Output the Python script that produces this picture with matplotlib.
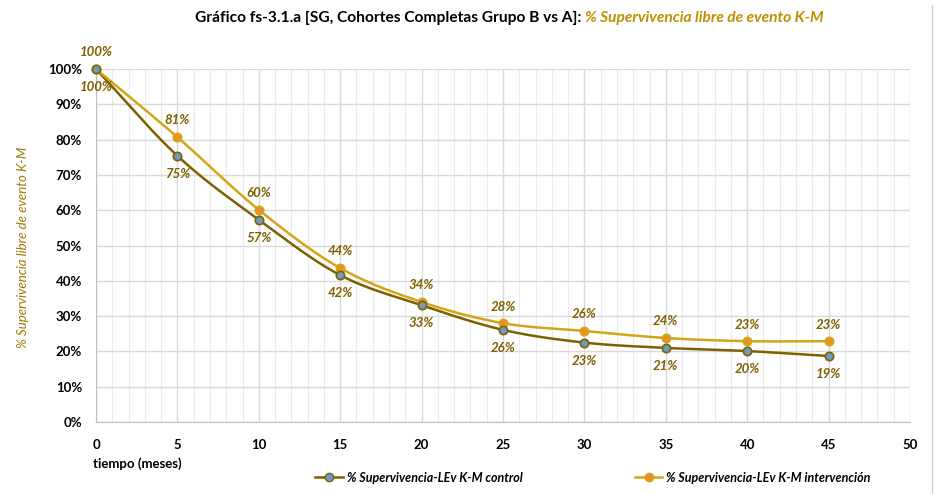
import matplotlib.pyplot as plt
from matplotlib.lines import Line2D
import numpy as np

plt.rcParams['font.family'] = ['Lato', 'DejaVu Sans']

# Datos K-M (meses, % supervivencia libre de evento)
meses = [0, 5, 10, 15, 20, 25, 30, 35, 40, 45]
control = [100, 75.4, 57.3, 41.6, 33.1, 26.1, 22.5, 21.0, 20.1, 18.7]
intervencion = [100, 80.7, 60.1, 43.6, 34.0, 28.0, 25.8, 23.8, 22.9, 22.9]
etq_control = ['100%', '75%', '57%', '42%', '33%', '26%', '23%', '21%', '20%', '19%']
etq_interv = ['100%', '81%', '60%', '44%', '34%', '28%', '26%', '24%', '23%', '23%']

c_control = '#7F6000'
c_interv = '#D4A514'
c_etq = '#7F6000'


def suavizar(x, y, n=20):
    # curva tipo Catmull-Rom entre los puntos, como la línea suavizada de Excel
    x = np.asarray(x, float)
    y = np.asarray(y, float)
    px = np.concatenate([[2 * x[0] - x[1]], x, [2 * x[-1] - x[-2]]])
    py = np.concatenate([[2 * y[0] - y[1]], y, [2 * y[-1] - y[-2]]])
    xs, ys = [], []
    t = np.linspace(0, 1, n)
    for i in range(1, len(px) - 2):
        for p, out in ((px, xs), (py, ys)):
            p0, p1, p2, p3 = p[i - 1], p[i], p[i + 1], p[i + 2]
            out.extend(0.5 * ((2 * p1) + (-p0 + p2) * t
                              + (2 * p0 - 5 * p1 + 4 * p2 - p3) * t ** 2
                              + (-p0 + 3 * p1 - 3 * p2 + p3) * t ** 3))
    return np.array(xs), np.array(ys)


fig = plt.figure(figsize=(9.44, 4.94), dpi=100)
ax = fig.add_axes([0.1017, 0.1457, 0.8623, 0.7146])

# cuadrícula: mayor cada 5 meses, menor cada mes
ax.set_xticks(range(0, 51, 5))
ax.set_xticks(range(0, 51, 1), minor=True)
ax.set_yticks(np.arange(0, 101, 10))
ax.grid(which='major', color='#D9D9D9', lw=1.0)
ax.grid(which='minor', axis='x', color='#EBEBEB', lw=0.8)
ax.set_axisbelow(True)
ax.set_xlim(0, 50)
ax.set_ylim(0, 100)
ax.set_yticklabels([f'{v}%' for v in range(0, 101, 10)])
ax.tick_params(which='both', length=0)
ax.tick_params(axis='x', pad=12)
ax.tick_params(axis='y', pad=10)
for lab in ax.get_xticklabels() + ax.get_yticklabels():
    lab.set_fontweight('bold')
    lab.set_fontsize(9.5)
for s in ['top', 'right']:
    ax.spines[s].set_visible(False)
for s in ['left', 'bottom']:
    ax.spines[s].set_color('#BFBFBF')

xs, ys = suavizar(meses, control)
ax.plot(xs, ys, color=c_control, lw=1.8, zorder=3)
xs, ys = suavizar(meses, intervencion)
ax.plot(xs, ys, color=c_interv, lw=1.8, zorder=3)
ax.plot(meses, control, 'o', ms=6, mfc='#6C9BBF', mec=c_control, mew=1.2, zorder=5, clip_on=False)
ax.plot(meses, intervencion, 'o', ms=6, mfc='#E8932A', mec=c_interv, mew=1.2, zorder=4, clip_on=False)

for x, y, t in zip(meses, control, etq_control):
    ax.annotate(t, (x, y), xytext=(0, -13), textcoords='offset points', ha='center', va='center',
                fontsize=9.5, fontweight='bold', style='italic', color=c_etq, annotation_clip=False)
for x, y, t in zip(meses, intervencion, etq_interv):
    ax.annotate(t, (x, y), xytext=(0, 12), textcoords='offset points', ha='center', va='center',
                fontsize=9.5, fontweight='bold', style='italic', color=c_etq, annotation_clip=False)

# título en dos partes, centrado en conjunto
t1 = fig.text(0, 0.963, 'Gráfico fs-3.1.a [SG, Cohortes Completas Grupo B vs A]: ',
              ha='left', va='center', fontsize=11.2, fontweight='bold', color='black')
t2 = fig.text(0, 0.963, '% Supervivencia libre de evento K-M',
              ha='left', va='center', fontsize=11.2, fontweight='bold', style='italic', color='#BF9000')
fig.canvas.draw()
w1 = t1.get_window_extent().width / fig.bbox.width
w2 = t2.get_window_extent().width / fig.bbox.width
x0 = 0.5397 - (w1 + w2) / 2
t1.set_x(x0)
t2.set_x(x0 + w1)

fig.text(0.024, 0.50, '% Supervivencia libre de evento K-M', rotation=90, ha='center', va='center',
         fontsize=9.5, style='italic', color='#9C7A00')
fig.text(0.099, 0.062, 'tiempo (meses)', ha='left', va='center', fontsize=9.5, fontweight='bold')

h1 = Line2D([], [], color=c_control, lw=1.8, marker='o', ms=6, mfc='#6C9BBF', mec=c_control)
h2 = Line2D([], [], color=c_interv, lw=1.8, marker='o', ms=6, mfc='#E8932A', mec=c_interv)
leg = fig.legend([h1, h2], ['% Supervivencia-LEv K-M control', '% Supervivencia-LEv K-M intervención'],
                 loc='center', bbox_to_anchor=(0.628, 0.033), ncol=2, frameon=False,
                 prop={'style': 'italic', 'weight': 'bold', 'size': 9}, columnspacing=9,
                 handlelength=2.2, handletextpad=0.3)

# borde de la celda de la hoja
fig.add_artist(Line2D([0.987, 0.987], [0, 0.99], transform=fig.transFigure, color='#D0D0D0', lw=1))

fig.savefig('out.png', dpi=100)
